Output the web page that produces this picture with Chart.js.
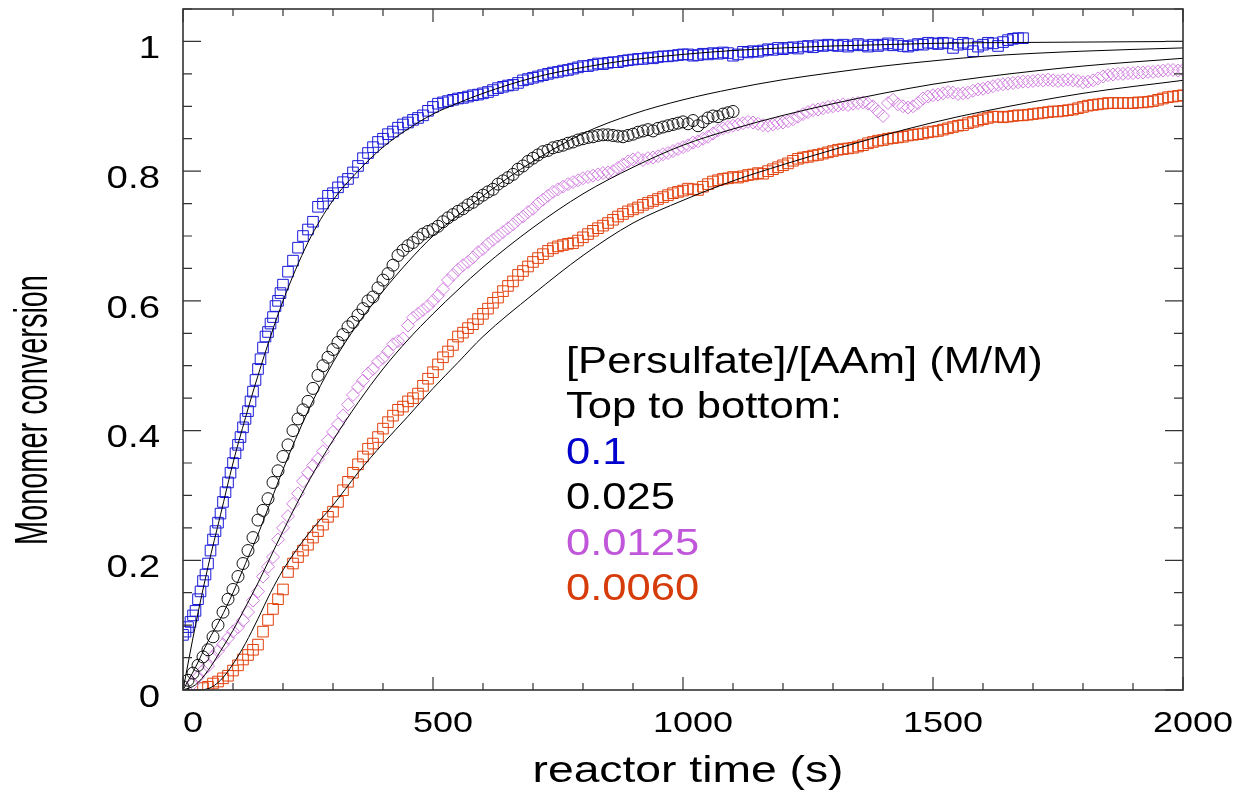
<!DOCTYPE html>
<html>
<head>
<meta charset="utf-8">
<script src="https://cdn.jsdelivr.net/npm/chart.js@4.4.1/dist/chart.umd.min.js"></script>
<style>
    html, body { margin: 0; padding: 0; background: #fff; }
    canvas { display: block; }
</style>
</head>
<body>
<canvas id="main" width="1237" height="793"></canvas>
<script>
const FONT = '"Liberation Sans", Arial, sans-serif'

const xTicks = [0, 500, 1000, 1500, 2000]
const yTicks = [0, 0.2, 0.4, 0.6, 0.8, 1]

// [Persulfate]/[AAm] = 0.1
const blueTime = [
    0, 5, 10, 15, 20, 25, 30, 35, 40, 45, 50, 55, 60, 65, 70, 75, 80, 85, 90, 95,
    100, 105, 110, 115, 120, 125, 130, 135, 140, 145, 150, 155, 160, 165, 170, 175, 180, 185, 190, 195, 200,
    210, 220, 230, 240, 250, 260, 270, 280, 290, 300,
    310, 320, 330, 340, 350, 360, 370, 380, 390, 400,
    410, 420, 430, 440, 450, 460, 470, 480, 490, 500,
    510, 520, 530, 540, 550, 560, 570, 580, 590, 600,
    610, 620, 630, 640, 650, 660, 670, 680, 690, 700,
    710, 720, 730, 740, 750, 760, 770, 780, 790, 800,
    810, 820, 830, 840, 850, 860, 870, 880, 890, 900,
    910, 920, 930, 940, 950, 960, 970, 980, 990, 1000,
    1010, 1020, 1030, 1040, 1050, 1060, 1070, 1080, 1090, 1100,
    1110, 1120, 1130, 1140, 1150, 1160, 1170, 1180, 1190, 1200,
    1210, 1220, 1230, 1240, 1250, 1260, 1270, 1280, 1290, 1300,
    1310, 1320, 1330, 1340, 1350, 1360, 1370, 1380, 1390, 1400,
    1410, 1420, 1430, 1440, 1450, 1460, 1470, 1480, 1490, 1500,
    1510, 1520, 1530, 1540, 1550, 1560, 1570, 1580, 1590, 1600,
    1610, 1620, 1630, 1640, 1650, 1660, 1670, 1680
]
const blueConv = [
    .085, .09, .097, .105, .115, .122, .14, .152, .168, .178,
    .195, .215, .232, .245, .258, .272, .29, .305, .32, .335,
    .35, .365, .378, .39, .405, .418, .43, .445, .46, .478,
    .495, .51, .528, .545, .552, .565, .575, .592, .6, .612, .625,
    .645, .662, .682, .7, .71, .722, .745, .75, .762, .766,
    .775, .783, .788, .798, .808, .82, .828, .837, .845, .85,
    .857, .861, .867, .872, .875, .879, .882, .886, .893, .899,
    .904, .906, .908, .91, .912, .913, .915, .917, .918, .92,
    .922, .925, .928, .93, .932, .933, .936, .94, .942, .944,
    .946, .948, .95, .952, .953, .955, .956, .958, .96, .962,
    .962, .964, .966, .965, .967, .968, .968, .97, .971, .972,
    .973, .973, .975, .974, .976, .977, .977, .978, .979, .98,
    .98, .978, .979, .981, .98, .982, .981, .983, .982, .978,
    .98, .984, .983, .985, .984, .986, .988, .987, .99, .988,
    .99, .991, .989, .992, .993, .991, .994, .993, .995, .994,
    .993, .995, .992, .994, .996, .994, .992, .995, .993, .995,
    .997, .994, .996, .993, .992, .994, .996, .995, .998, .997,
    .996, .998, .997, .99, .995, .998, .996, .985, .992, .995,
    .998, .997, .993, .999, 1.002, 1.004, 1.005, 1.005
]

// 0.025
const blackTime = [
    0, 10, 20, 30, 40, 50, 60, 70, 80, 90,
    100, 110, 120, 130, 140, 150, 160, 170, 180, 190,
    200, 210, 220, 230, 240, 250, 260, 270, 280, 290,
    300, 310, 320, 330, 340, 350, 360, 370, 380, 390,
    400, 410, 420, 430, 440, 450, 460, 470, 480, 490,
    500, 510, 520, 530, 540, 550, 560, 570, 580, 590,
    600, 610, 620, 630, 640, 650, 660, 670, 680, 690,
    700, 710, 720, 730, 740, 750, 760, 770, 780, 790,
    800, 810, 820, 830, 840, 850, 860, 870, 880, 890,
    900, 910, 920, 930, 940, 950, 960, 970, 980, 990,
    1000, 1010, 1020, 1030, 1040, 1050, 1060, 1070, 1080, 1090, 1100
]
const blackConv = [
    .005, .015, .026, .038, .051, .062, .082, .1, .12, .14,
    .155, .175, .195, .215, .235, .262, .277, .295, .32, .338,
    .36, .378, .4, .418, .432, .445, .465, .485, .5, .513,
    .525, .536, .548, .56, .567, .578, .588, .6, .606, .62,
    .632, .642, .655, .67, .678, .685, .69, .697, .703, .707,
    .71, .715, .722, .728, .733, .738, .742, .748, .752, .758,
    .763, .768, .772, .78, .785, .79, .795, .803, .808, .815,
    .82, .825, .83, .832, .836, .838, .84, .843, .845, .848,
    .85, .852, .853, .855, .856, .856, .855, .854, .853, .855,
    .857, .86, .862, .864, .862, .866, .868, .87, .872, .874,
    .876, .873, .878, .87, .876, .882, .885, .884, .888, .89, .892
]

// 0.0125
const pinkTime = [
    20, 30, 40, 50, 60, 70, 80, 90, 100, 110,
    120, 130, 140, 150, 160, 170, 180, 190, 200, 210,
    220, 230, 240, 250, 260, 270, 280, 290, 300, 310,
    320, 330, 340, 350, 360, 370, 380, 390, 400, 410,
    420, 430, 440, 450, 460, 470, 480, 490, 500, 510,
    520, 530, 540, 550, 560, 570, 580, 590, 600, 610,
    620, 630, 640, 650, 660, 670, 680, 690, 700, 710,
    720, 730, 740, 750, 760, 770, 780, 790, 800, 810,
    820, 830, 840, 850, 860, 870, 880, 890, 900, 910,
    920, 930, 940, 950, 960, 970, 980, 990, 1000, 1010,
    1020, 1030, 1040, 1050, 1060, 1070, 1080, 1090, 1100, 1110,
    1120, 1130, 1140, 1150, 1160, 1170, 1180, 1190, 1200, 1210,
    1220, 1230, 1240, 1250, 1260, 1270, 1280, 1290, 1300, 1310,
    1320, 1330, 1340, 1350, 1360, 1370, 1380, 1390, 1400, 1410,
    1420, 1430, 1440, 1450, 1460, 1470, 1480, 1490, 1500, 1510,
    1520, 1530, 1540, 1550, 1560, 1570, 1580, 1590, 1600, 1610,
    1620, 1630, 1640, 1650, 1660, 1670, 1680, 1690, 1700, 1710,
    1720, 1730, 1740, 1750, 1760, 1770, 1780, 1790, 1800, 1810,
    1820, 1830, 1840, 1850, 1860, 1870, 1880, 1890, 1900, 1910,
    1920, 1930, 1940, 1950, 1960, 1970, 1980, 1990, 2000
]
const pinkConv = [
    .01, .02, .03, .037, .052, .06, .07, .08, .09, .097,
    .107, .12, .138, .152, .175, .19, .205, .232, .25, .268,
    .287, .303, .322, .335, .346, .356, .368, .385, .398, .41,
    .423, .44, .455, .467, .477, .488, .495, .506, .512, .522,
    .533, .538, .542, .562, .574, .58, .586, .592, .6, .608,
    .618, .632, .64, .648, .655, .66, .667, .675, .68, .688,
    .694, .7, .706, .712, .718, .725, .73, .737, .742, .75,
    .756, .762, .768, .772, .776, .78, .783, .786, .789, .791,
    .793, .795, .797, .798, .8, .805, .81, .815, .818, .82,
    .817, .82, .821, .823, .826, .828, .831, .834, .837, .84,
    .844, .846, .85, .853, .858, .863, .866, .868, .87, .872,
    .874, .876, .875, .873, .871, .87, .872, .874, .875, .877,
    .88, .884, .888, .891, .894, .895, .897, .899, .9, .901,
    .903, .902, .904, .905, .906, .904, .9, .892, .885, .905,
    .91, .903, .9, .898, .9, .905, .912, .915, .917, .918,
    .92, .922, .921, .919, .92, .921, .924, .926, .927, .929,
    .931, .933, .934, .935, .936, .937, .938, .938, .939, .94,
    .94, .941, .94, .939, .94, .941, .94, .939, .937, .938,
    .94, .943, .946, .948, .949, .95, .95, .951, .951, .952,
    .952, .953, .953, .954, .955, .956, .956, .955, .956
]

// 0.0060
const orangeTime = [
    40, 50, 60, 70, 80, 90, 100, 110, 120, 130,
    140, 150, 160, 170, 180, 190, 200, 210, 220, 230,
    240, 250, 260, 270, 280, 290, 300, 310, 320, 330,
    340, 350, 360, 370, 380, 390, 400, 410, 420, 430,
    440, 450, 460, 470, 480, 490, 500, 510, 520, 530,
    540, 550, 560, 570, 580, 590, 600, 610, 620, 630,
    640, 650, 660, 670, 680, 690, 700, 710, 720, 730,
    740, 750, 760, 770, 780, 790, 800, 810, 820, 830,
    840, 850, 860, 870, 880, 890, 900, 910, 920, 930,
    940, 950, 960, 970, 980, 990, 1000, 1010, 1020, 1030,
    1040, 1050, 1060, 1070, 1080, 1090, 1100, 1110, 1120, 1130,
    1140, 1150, 1160, 1170, 1180, 1190, 1200, 1210, 1220, 1230,
    1240, 1250, 1260, 1270, 1280, 1290, 1300, 1310, 1320, 1330,
    1340, 1350, 1360, 1370, 1380, 1390, 1400, 1410, 1420, 1430,
    1440, 1450, 1460, 1470, 1480, 1490, 1500, 1510, 1520, 1530,
    1540, 1550, 1560, 1570, 1580, 1590, 1600, 1610, 1620, 1630,
    1640, 1650, 1660, 1670, 1680, 1690, 1700, 1710, 1720, 1730,
    1740, 1750, 1760, 1770, 1780, 1790, 1800, 1810, 1820, 1830,
    1840, 1850, 1860, 1870, 1880, 1890, 1900, 1910, 1920, 1930,
    1940, 1950, 1960, 1970, 1980, 1990, 2000
]
const orangeConv = [
    .003, .005, .01, .013, .018, .022, .03, .038, .047, .054,
    .062, .07, .09, .108, .125, .14, .155, .182, .195, .205,
    .215, .224, .235, .245, .255, .267, .275, .29, .308, .321,
    .335, .348, .36, .372, .38, .39, .403, .413, .423, .432,
    .437, .445, .45, .457, .469, .48, .49, .502, .513, .522,
    .532, .545, .551, .558, .564, .572, .58, .588, .597, .605,
    .615, .623, .63, .64, .646, .653, .66, .666, .672, .677,
    .681, .684, .686, .688, .689, .693, .698, .703, .708, .712,
    .716, .72, .725, .73, .734, .738, .741, .744, .748, .751,
    .754, .757, .76, .763, .766, .768, .77, .773, .772, .771,
    .776, .78, .784, .786, .788, .789, .791, .79, .792, .794,
    .795, .797, .796, .8, .803, .806, .809, .812, .816, .819,
    .821, .822, .824, .825, .827, .829, .831, .833, .834, .835,
    .836, .838, .84, .843, .845, .847, .848, .85, .851, .852,
    .853, .855, .856, .857, .858, .86, .861, .862, .864, .866,
    .868, .87, .871, .874, .876, .878, .88, .882, .884, .884,
    .883, .884, .885, .886, .886, .887, .888, .889, .89, .891,
    .892, .892, .893, .894, .895, .897, .899, .901, .902, .903,
    .904, .905, .905, .905, .905, .905, .905, .906, .906, .907,
    .908, .91, .912, .914, .915, .916, .917
]

// model curves (thin black lines)
const fitTime = [0, 25, 50, 75, 100, 125, 150, 175, 200, 250, 300, 350, 400, 450, 500, 550, 600,
    700, 800, 900, 1000, 1100, 1200, 1300, 1400, 1500, 1600, 1800, 2000]
const blueFit = [0, .1, .19, .27, .35, .42, .485, .545, .6, .69, .755, .8, .837, .865, .888, .905, .92,
    .944, .96, .972, .98, .986, .99, .993, .995, .997, .998, .999, 1]
const blackFit = [0, .035, .075, .11, .15, .195, .24, .29, .34, .43, .505, .565, .615, .66, .7, .732, .762,
    .815, .858, .888, .91, .927, .941, .952, .962, .97, .977, .985, .99]
const pinkFit = [0, .008, .03, .06, .092, .128, .165, .205, .245, .32, .385, .443, .495, .54, .58, .617, .652,
    .713, .765, .806, .84, .865, .886, .904, .92, .934, .945, .962, .974]
const orangeFit = [0, 0, .002, .015, .04, .072, .11, .15, .185, .24, .285, .335, .38, .422, .465, .505, .545,
    .61, .67, .72, .755, .785, .81, .833, .855, .875, .892, .92, .94]

const noteLines = ['[Persulfate]/[AAm] (M/M)', 'Top to bottom:', '0.1', '0.025', '0.0125', '0.0060']
const noteColors = ['#000', '#000', '#0000cc', '#000', '#c056d9', '#d63b0a']

const toPoints = (xs, ys) => xs.map((x, i) => ({ x: x, y: ys[i] }))

const canvas = document.querySelector('#main')
const ctx = canvas.getContext('2d')

// the source figure was stretched sideways, so text is widened the same way
const rawFill = ctx.fillText
let textStretch = 1.2
ctx.fillText = function (text, x, y) {
    this.save()
    this.translate(x, y)
    this.scale(textStretch, 1)
    rawFill.call(this, text, 0, 0)
    this.restore()
}

const framePlugin = {
    id: 'frame',
    afterDraw(chart) {
        const { ctx, chartArea: a, scales: { x, y } } = chart
        ctx.save()
        ctx.strokeStyle = '#333'
        ctx.lineWidth = 1.6
        ctx.strokeRect(a.left, a.top, a.right - a.left, a.bottom - a.top)

        // inward ticks on all four sides
        ctx.lineWidth = 1.2
        ctx.beginPath()
        for (let t = 0; t <= 2000; t += 100) {
            const px = x.getPixelForValue(t)
            const len = t % 500 === 0 ? 13 : 7
            ctx.moveTo(px, a.bottom)
            ctx.lineTo(px, a.bottom - len)
            ctx.moveTo(px, a.top)
            ctx.lineTo(px, a.top + len)
        }
        for (let i = 0; i <= 21; i++) {
            const py = y.getPixelForValue(i * 0.05)
            const len = i % 4 === 0 ? 18 : 9
            ctx.moveTo(a.left, py)
            ctx.lineTo(a.left + len, py)
            ctx.moveTo(a.right, py)
            ctx.lineTo(a.right - len, py)
        }
        ctx.stroke()

        ctx.fillStyle = '#000'
        ctx.textBaseline = 'alphabetic'
        ctx.textAlign = 'center'

        textStretch = 1.25
        ctx.font = `37px ${FONT}`
        ctx.fillText('reactor time (s)', 688, 782)

        ctx.save()
        ctx.translate(47, 410)
        ctx.rotate(-Math.PI / 2)
        textStretch = 0.615
        ctx.font = `47px ${FONT}`
        ctx.fillText('Monomer conversion', 0, 0)
        ctx.restore()

        textStretch = 1.21
        ctx.font = `36px ${FONT}`
        ctx.textAlign = 'left'
        noteLines.forEach((line, i) => {
            ctx.fillStyle = noteColors[i]
            ctx.fillText(line, 566, 373 + i * 45.4)
        })
        textStretch = 1.2
        ctx.restore()
    }
}

const markers = (xs, ys, style, radius, color) => ({
    data: toPoints(xs, ys),
    pointStyle: style,
    pointRadius: radius,
    pointBorderColor: color,
    pointBackgroundColor: 'rgba(0,0,0,0)',
    pointBorderWidth: 1,
    borderColor: color,
    order: 1
})

const fitLine = ys => ({
    data: toPoints(fitTime, ys),
    showLine: true,
    borderColor: '#000',
    borderWidth: 1,
    pointRadius: 0,
    cubicInterpolationMode: 'monotone',
    order: 0
})

let chart = new Chart(ctx, {
    type: 'scatter',
    data: {
        datasets: [
            markers(blueTime, blueConv, 'rect', 7.5, '#1a1ad8'),
            markers(blackTime, blackConv, 'circle', 6, '#111'),
            markers(pinkTime, pinkConv, 'rectRot', 6.5, '#d27fe0'),
            markers(orangeTime, orangeConv, 'rect', 7.5, '#e2420e'),
            fitLine(blueFit),
            fitLine(blackFit),
            fitLine(pinkFit),
            fitLine(orangeFit)
        ]
    },
    options: {
        responsive: false,
        animation: false,
        devicePixelRatio: 1,
        layout: { padding: { top: 9, right: 54, left: 0, bottom: 0 } },
        plugins: {
            legend: { display: false },
            tooltip: { enabled: false }
        },
        events: [],
        scales: {
            x: {
                type: 'linear',
                min: 0,
                max: 2000,
                afterBuildTicks: s => { s.ticks = xTicks.map(v => ({ value: v })) },
                afterFit: s => {
                    s.height = 103
                    s.paddingLeft = 0
                    s.paddingRight = 0
                },
                grid: { display: false, drawTicks: false },
                border: { display: false },
                ticks: {
                    font: { family: FONT, size: 30 },
                    color: '#000',
                    padding: 16,
                    labelOffset: 10,
                    maxRotation: 0,
                    autoSkip: false,
                    callback: v => String(v)
                }
            },
            y: {
                type: 'linear',
                min: 0,
                max: 1.05,
                afterBuildTicks: s => { s.ticks = yTicks.map(v => ({ value: v })) },
                afterFit: s => {
                    s.width = 183
                    s.paddingTop = 0
                    s.paddingBottom = 0
                },
                grid: { display: false, drawTicks: false },
                border: { display: false },
                ticks: {
                    font: { family: FONT, size: 32 },
                    color: '#000',
                    padding: 23,
                    labelOffset: 8,
                    callback: v => String(v)
                }
            }
        }
    },
    plugins: [framePlugin]
})
</script>
</body>
</html>
